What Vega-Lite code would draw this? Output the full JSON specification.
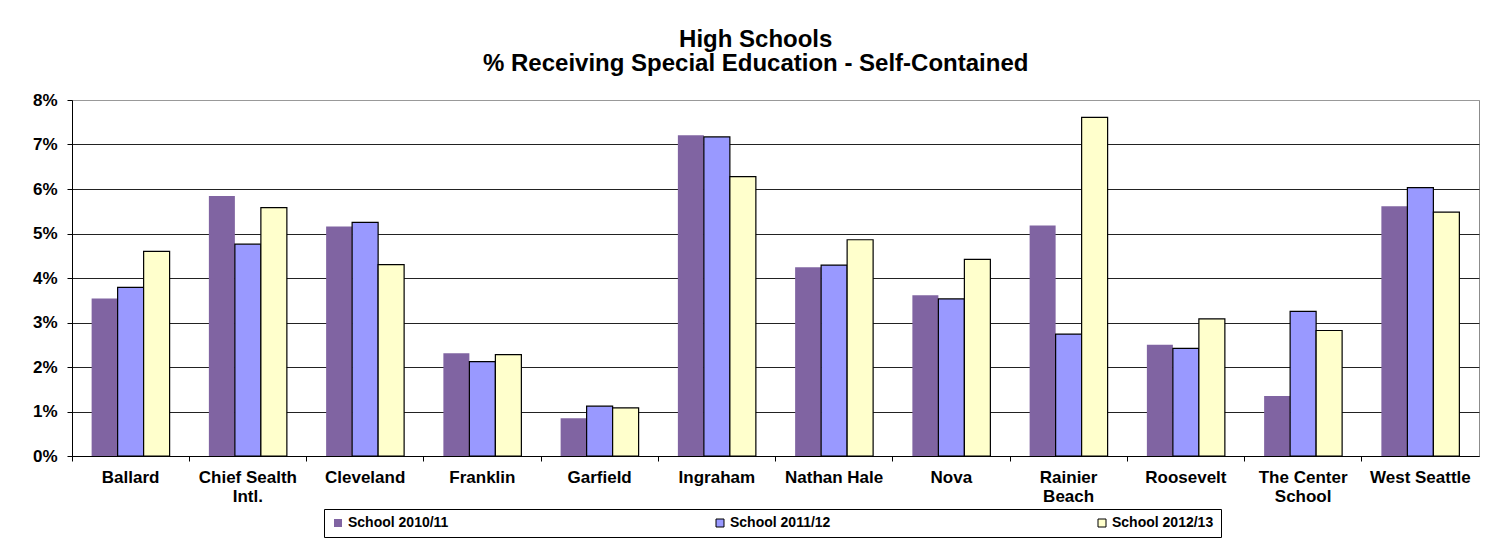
{
  "$schema": "https://vega.github.io/schema/vega-lite/v6.json",
  "autosize": "none",
  "width": 1407,
  "height": 356,
  "padding": {"left": 72, "top": 100, "right": 26, "bottom": 92},
  "background": "white",
  "title": {
    "text": ["High Schools", "% Receiving Special Education - Self-Contained"],
    "font": "Liberation Sans",
    "fontSize": 24,
    "fontWeight": "bold",
    "color": "#000000",
    "lineHeight": 24,
    "offset": 15,
    "anchor": "middle",
    "frame": "bounds"
  },
  "data": {
    "values": [
      {"school": "Ballard", "year": "School 2010/11", "value": 0.0354},
      {"school": "Ballard", "year": "School 2011/12", "value": 0.0379},
      {"school": "Ballard", "year": "School 2012/13", "value": 0.0460},
      {"school": "Chief Sealth Intl.", "year": "School 2010/11", "value": 0.0584},
      {"school": "Chief Sealth Intl.", "year": "School 2011/12", "value": 0.0476},
      {"school": "Chief Sealth Intl.", "year": "School 2012/13", "value": 0.0558},
      {"school": "Cleveland", "year": "School 2010/11", "value": 0.0516},
      {"school": "Cleveland", "year": "School 2011/12", "value": 0.0525},
      {"school": "Cleveland", "year": "School 2012/13", "value": 0.0430},
      {"school": "Franklin", "year": "School 2010/11", "value": 0.0231},
      {"school": "Franklin", "year": "School 2011/12", "value": 0.0212},
      {"school": "Franklin", "year": "School 2012/13", "value": 0.0228},
      {"school": "Garfield", "year": "School 2010/11", "value": 0.0085},
      {"school": "Garfield", "year": "School 2011/12", "value": 0.0112},
      {"school": "Garfield", "year": "School 2012/13", "value": 0.0108},
      {"school": "Ingraham", "year": "School 2010/11", "value": 0.0721},
      {"school": "Ingraham", "year": "School 2011/12", "value": 0.0717},
      {"school": "Ingraham", "year": "School 2012/13", "value": 0.0628},
      {"school": "Nathan Hale", "year": "School 2010/11", "value": 0.0424},
      {"school": "Nathan Hale", "year": "School 2011/12", "value": 0.0429},
      {"school": "Nathan Hale", "year": "School 2012/13", "value": 0.0486},
      {"school": "Nova", "year": "School 2010/11", "value": 0.0361},
      {"school": "Nova", "year": "School 2011/12", "value": 0.0353},
      {"school": "Nova", "year": "School 2012/13", "value": 0.0442},
      {"school": "Rainier Beach", "year": "School 2010/11", "value": 0.0518},
      {"school": "Rainier Beach", "year": "School 2011/12", "value": 0.0274},
      {"school": "Rainier Beach", "year": "School 2012/13", "value": 0.0761},
      {"school": "Roosevelt", "year": "School 2010/11", "value": 0.0250},
      {"school": "Roosevelt", "year": "School 2011/12", "value": 0.0242},
      {"school": "Roosevelt", "year": "School 2012/13", "value": 0.0308},
      {"school": "The Center School", "year": "School 2010/11", "value": 0.0135},
      {"school": "The Center School", "year": "School 2011/12", "value": 0.0325},
      {"school": "The Center School", "year": "School 2012/13", "value": 0.0282},
      {"school": "West Seattle", "year": "School 2010/11", "value": 0.0561},
      {"school": "West Seattle", "year": "School 2011/12", "value": 0.0603},
      {"school": "West Seattle", "year": "School 2012/13", "value": 0.0548}
    ]
  },
  "mark": {"type": "bar", "strokeWidth": 1.2},
  "encoding": {
    "x": {
      "field": "school",
      "type": "nominal",
      "sort": null,
      "scale": {"paddingInner": 0, "paddingOuter": 0},
      "axis": {
        "title": null,
        "bandPosition": 0,
        "labelAngle": 0,
        "labelOverlap": false,
        "tickSize": 5,
        "labelPadding": 8,
        "labelFont": "Liberation Sans",
        "labelFontSize": 17,
        "labelFontWeight": "bold",
        "labelColor": "#000000",
        "labelLineHeight": 19,
        "labelLimit": 0,
        "labelExpr": "datum.label == 'Chief Sealth Intl.' ? ['Chief Sealth', 'Intl.'] : datum.label == 'Rainier Beach' ? ['Rainier', 'Beach'] : datum.label == 'The Center School' ? ['The Center', 'School'] : datum.label",
        "domainColor": "#000000",
        "tickColor": "#000000",
        "grid": false
      }
    },
    "xOffset": {
      "field": "year",
      "type": "nominal",
      "sort": null,
      "scale": {"paddingInner": 0, "paddingOuter": 0.755}
    },
    "y": {
      "field": "value",
      "type": "quantitative",
      "scale": {"domain": [0, 0.08], "nice": false},
      "axis": {
        "title": null,
        "values": [0, 0.01, 0.02, 0.03, 0.04, 0.05, 0.06, 0.07, 0.08],
        "format": ".0%",
        "tickSize": 5,
        "labelPadding": 10,
        "labelFont": "Liberation Sans",
        "labelFontSize": 17,
        "labelFontWeight": "bold",
        "labelColor": "#000000",
        "domainColor": "#000000",
        "tickColor": "#000000",
        "grid": true,
        "gridColor": {"condition": {"test": "datum.value >= 0.08", "value": "#999999"}, "value": "#222222"},
        "gridOpacity": 1
      }
    },
    "fill": {
      "field": "year",
      "type": "nominal",
      "sort": null,
      "scale": {"range": ["#8064A2", "#9999FF", "#FFFFCC"]},
      "legend": {
        "title": null,
        "orient": "none",
        "legendX": 252,
        "legendY": 409,
        "direction": "horizontal",
        "columnPadding": 264,
        "padding": 7,
        "strokeColor": "#000000",
        "fillColor": "#ffffff",
        "symbolType": "square",
        "symbolSize": 64,
        "symbolStrokeWidth": 1,
        "symbolOpacity": 1,
        "labelFont": "Liberation Sans",
        "labelFontSize": 14,
        "labelFontWeight": "bold",
        "labelColor": "#000000",
        "labelOffset": 3
      }
    },
    "stroke": {
      "field": "year",
      "type": "nominal",
      "sort": null,
      "scale": {"range": ["transparent", "#000000", "#000000"]},
      "legend": {
        "title": null,
        "orient": "none",
        "legendX": 252,
        "legendY": 409,
        "direction": "horizontal",
        "columnPadding": 264,
        "padding": 7,
        "strokeColor": "#000000",
        "fillColor": "#ffffff",
        "symbolType": "square",
        "symbolSize": 64,
        "symbolStrokeWidth": 1,
        "symbolOpacity": 1,
        "labelFont": "Liberation Sans",
        "labelFontSize": 14,
        "labelFontWeight": "bold",
        "labelColor": "#000000",
        "labelOffset": 3
      }
    }
  },
  "config": {
    "view": {"stroke": "#8c8c8c", "strokeWidth": 1},
    "font": "Liberation Sans"
  }
}
